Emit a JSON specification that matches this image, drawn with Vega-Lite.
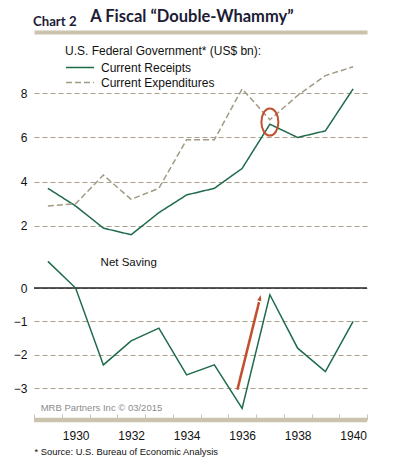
{
  "$schema": "https://vega.github.io/schema/vega-lite/v6.json",
  "background": "white",
  "padding": {"left": 13, "top": 8, "right": 10, "bottom": 5},
  "title": {"text": "Chart 2", "anchor": "start", "frame": "group", "font": "Lato", "fontSize": 13.2, "fontWeight": "bold", "color": "#1c1c35", "dy": 25, "dx": -1},
  "spacing": 5,
  "config": {"view": {"stroke": null}, "font": "Liberation Sans"},
  "datasets": {
    "fed": [
      {"year": 1929, "series": "Current Receipts", "value": 3.7},
      {"year": 1930, "series": "Current Receipts", "value": 2.9},
      {"year": 1931, "series": "Current Receipts", "value": 1.9},
      {"year": 1932, "series": "Current Receipts", "value": 1.6},
      {"year": 1933, "series": "Current Receipts", "value": 2.6},
      {"year": 1934, "series": "Current Receipts", "value": 3.4},
      {"year": 1935, "series": "Current Receipts", "value": 3.7},
      {"year": 1936, "series": "Current Receipts", "value": 4.6},
      {"year": 1937, "series": "Current Receipts", "value": 6.6},
      {"year": 1938, "series": "Current Receipts", "value": 6.0},
      {"year": 1939, "series": "Current Receipts", "value": 6.3},
      {"year": 1940, "series": "Current Receipts", "value": 8.2},
      {"year": 1929, "series": "Current Expenditures", "value": 2.9},
      {"year": 1930, "series": "Current Expenditures", "value": 3.0},
      {"year": 1931, "series": "Current Expenditures", "value": 4.3},
      {"year": 1932, "series": "Current Expenditures", "value": 3.2},
      {"year": 1933, "series": "Current Expenditures", "value": 3.7},
      {"year": 1934, "series": "Current Expenditures", "value": 5.9},
      {"year": 1935, "series": "Current Expenditures", "value": 5.9},
      {"year": 1936, "series": "Current Expenditures", "value": 8.2},
      {"year": 1937, "series": "Current Expenditures", "value": 6.8},
      {"year": 1938, "series": "Current Expenditures", "value": 7.9},
      {"year": 1939, "series": "Current Expenditures", "value": 8.8},
      {"year": 1940, "series": "Current Expenditures", "value": 9.2}
    ],
    "saving": [
      {"year": 1929, "value": 0.8},
      {"year": 1930, "value": 0.0},
      {"year": 1931, "value": -2.3},
      {"year": 1932, "value": -1.58},
      {"year": 1933, "value": -1.2},
      {"year": 1934, "value": -2.6},
      {"year": 1935, "value": -2.3},
      {"year": 1936, "value": -3.6},
      {"year": 1937, "value": -0.2},
      {"year": 1938, "value": -1.8},
      {"year": 1939, "value": -2.5},
      {"year": 1940, "value": -1.0}
    ]
  },
  "vconcat": [
    {
      "width": 333,
      "height": 210,
      "title": {"text": "A Fiscal “Double-Whammy”", "anchor": "start", "font": "Lato", "fontSize": 16.5, "fontWeight": "bold", "color": "#1c1c35", "dx": 70, "offset": 7},
      "layer": [
        {
          "data": {"name": "fed"},
          "mark": {"type": "line", "strokeWidth": 1.5},
          "encoding": {
            "x": {"field": "year", "type": "quantitative", "scale": {"domain": [1928.5, 1940.5], "nice": false, "zero": false},
                  "axis": {"orient": "top", "labels": false, "ticks": false, "grid": false, "title": null, "domainColor": "#cbc3ae", "domainWidth": 4, "offset": 6}},
            "y": {"field": "value", "type": "quantitative", "scale": {"domain": [1, 10.5], "nice": false, "zero": false},
                  "axis": {"values": [2, 4, 6, 8], "title": null, "domain": false, "ticks": false, "labelFontSize": 12, "labelColor": "#111", "labelPadding": 7, "gridColor": "#a89f8a", "gridDash": [5, 3], "gridWidth": 1.2}},
            "color": {"field": "series", "type": "nominal", "scale": {"domain": ["Current Receipts", "Current Expenditures"], "range": ["#1e6b4a", "#a39a85"]},
                      "legend": {"title": "U.S. Federal Government* (US$ bn):", "orient": "none", "legendX": 31, "legendY": 7.5, "titleLimit": 400, "titleFontSize": 12, "titleFontWeight": "normal", "titleColor": "#111", "labelFontSize": 12, "labelColor": "#111", "symbolType": "stroke", "symbolSize": 784, "symbolStrokeWidth": 1.5, "clipHeight": 15, "rowPadding": 0, "labelOffset": 6, "titlePadding": 2.5}},
            "strokeDash": {"field": "series", "type": "nominal", "scale": {"domain": ["Current Receipts", "Current Expenditures"], "range": [[1, 0], [6, 3]]},
                      "legend": {"title": "U.S. Federal Government* (US$ bn):", "orient": "none", "legendX": 31, "legendY": 7.5, "titleLimit": 400, "titleFontSize": 12, "titleFontWeight": "normal", "titleColor": "#111", "labelFontSize": 12, "labelColor": "#111", "symbolType": "stroke", "symbolSize": 784, "symbolStrokeWidth": 1.5, "clipHeight": 15, "rowPadding": 0, "labelOffset": 6, "titlePadding": 2.5}}
          }
        },
        {
          "data": {"values": [{"year": 1937, "value": 6.7}]},
          "mark": {"type": "point", "shape": "M0,-1.6A1,1.6 0 1,1 0,1.6A1,1.6 0 1,1 0,-1.6Z", "size": 289, "filled": false, "stroke": "#c0502e", "strokeWidth": 2, "opacity": 1},
          "encoding": {
            "x": {"field": "year", "type": "quantitative"},
            "y": {"field": "value", "type": "quantitative"}
          }
        }
      ]
    },
    {
      "width": 333,
      "height": 167,
      "resolve": {"scale": {"x": "independent"}, "axis": {"x": "independent"}},
      "layer": [
        {
          "layer": [
            {
              "data": {"values": [{"level": 0}]},
              "mark": {"type": "rule", "color": "#222", "strokeWidth": 1.5},
              "encoding": {
                "y": {"field": "level", "type": "quantitative"}
              }
            },
            {
              "data": {"name": "saving"},
              "mark": {"type": "line", "color": "#1e6b4a", "strokeWidth": 1.5},
              "encoding": {
                "x": {"field": "year", "type": "quantitative", "scale": {"domain": [1928.5, 1940.5], "nice": false, "zero": false},
                      "axis": {"orient": "bottom", "values": [1930, 1932, 1934, 1936, 1938, 1940], "format": "d",
                               "labelFontSize": 12, "labelColor": "#111", "labelPadding": 10, "labelFlush": false,
                               "ticks": false, "domain": false, "grid": false,
                               "title": "* Source: U.S. Bureau of Economic Analysis", "titleAnchor": "start", "titleFontSize": 9.4, "titleFontWeight": "normal", "titleColor": "#111", "titlePadding": 6}},
                "y": {"field": "value", "type": "quantitative", "scale": {"domain": [-3.95, 1.05], "nice": false, "zero": false},
                      "axis": {"values": [-3, -2, -1, 0], "title": null, "domain": false, "ticks": false, "labelFontSize": 12, "labelColor": "#111", "labelPadding": 7,
                               "gridColor": "#a89f8a", "gridDash": [5, 3], "gridWidth": 1.2}}
              }
            },
            {
              "data": {"values": [{"x": 1935.83, "y": -3.04, "x2": 1936.61, "y2": -0.42}]},
              "mark": {"type": "rule", "color": "#c0502e", "strokeWidth": 2.5},
              "encoding": {
                "x": {"field": "x", "type": "quantitative"},
                "y": {"field": "y", "type": "quantitative"},
                "x2": {"field": "x2"},
                "y2": {"field": "y2"}
              }
            },
            {
              "data": {"values": [{"x": 1936.67, "y": -0.21}]},
              "mark": {"type": "point", "shape": "M0,0L0.6,1.7L-0.6,1.7Z", "size": 49, "filled": true, "color": "#c0502e", "opacity": 1, "angle": 14},
              "encoding": {
                "x": {"field": "x", "type": "quantitative"},
                "y": {"field": "y", "type": "quantitative"}
              }
            },
            {
              "data": {"values": [{"x": 1930.9, "y": 0.76, "label": "Net Saving"}]},
              "mark": {"type": "text", "align": "left", "baseline": "middle", "fontSize": 11.5, "color": "#111"},
              "encoding": {
                "x": {"field": "x", "type": "quantitative"},
                "y": {"field": "y", "type": "quantitative"},
                "text": {"field": "label"}
              }
            },
            {
              "data": {"values": [{"x": 1928.74, "y": -3.6, "label": "MRB Partners Inc © 03/2015"}]},
              "mark": {"type": "text", "align": "left", "baseline": "middle", "fontSize": 9.5, "color": "#8c8c8c"},
              "encoding": {
                "x": {"field": "x", "type": "quantitative"},
                "y": {"field": "y", "type": "quantitative"},
                "text": {"field": "label"}
              }
            }
          ]
        },
        {
          "data": {"values": [{"start": 1928.5, "end": 1940.5, "base": -3.95}]},
          "mark": {"type": "rule", "color": "#cbc3ae", "strokeWidth": 4.5},
          "encoding": {
            "x": {"field": "start", "type": "quantitative", "scale": {"domain": [1928.5, 1940.5], "nice": false, "zero": false},
                  "axis": {"orient": "bottom", "values": [1928.5, 1929.5, 1930.5, 1931.5, 1932.5, 1933.5, 1934.5, 1935.5, 1936.5, 1937.5, 1938.5, 1939.5, 1940.5],
                           "labels": false, "domain": false, "grid": false, "title": null,
                           "tickSize": -6, "tickColor": "#cbc3ae", "tickWidth": 1}},
            "x2": {"field": "end"},
            "y": {"field": "base", "type": "quantitative"}
          }
        }
      ]
    }
  ]
}
